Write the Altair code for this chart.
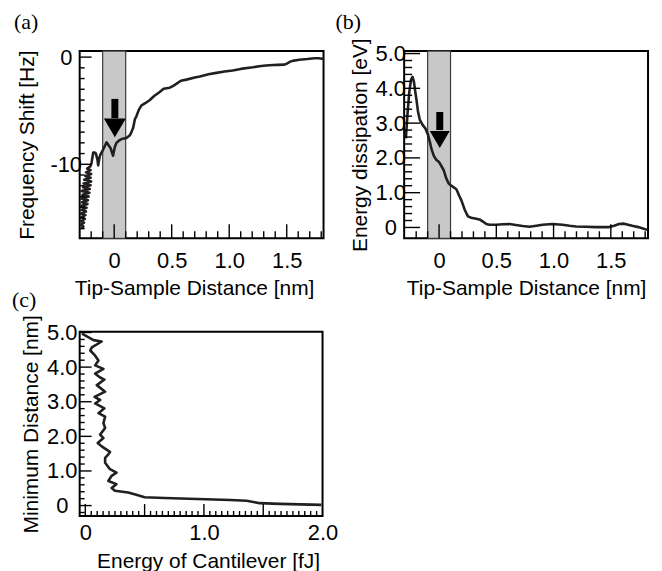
import altair as alt
import pandas as pd

SANS = "Liberation Sans"
SERIF = "Liberation Serif"
INK = "#231f20"

# ---------------- data ----------------
# (a) frequency shift [Hz] vs tip-sample distance [nm]
A_DIST = [-0.283, -0.268, -0.292, -0.262, -0.29, -0.255, -0.288, -0.25, -0.292, -0.245,
          -0.285, -0.24, -0.29, -0.232, -0.28, -0.228, -0.288, -0.222, -0.275, -0.215,
          -0.285, -0.212, -0.27, -0.205, -0.265, -0.2, -0.26, -0.205, -0.25, -0.2,
          -0.245, -0.205, -0.235, -0.208,
          -0.2, -0.196, -0.182, -0.17, -0.159, -0.145, -0.139, -0.13, -0.124, -0.095,
          -0.066, -0.05, -0.031, -0.01, 0.005, 0.02, 0.04, 0.064, 0.107, 0.136,
          0.15, 0.165, 0.18, 0.194, 0.215, 0.238, 0.27, 0.31, 0.35, 0.396,
          0.43, 0.483, 0.51, 0.54, 0.58, 0.628, 0.70, 0.745, 0.82, 0.888,
          0.96, 1.03, 1.10, 1.206, 1.26, 1.32, 1.42, 1.48, 1.50, 1.53,
          1.55, 1.61, 1.68, 1.74, 1.78, 1.82]
A_FREQ = [-16.0, -15.8, -15.65, -15.45, -15.3, -15.1, -14.95, -14.75, -14.6, -14.4,
          -14.25, -14.05, -13.9, -13.7, -13.55, -13.35, -13.2, -13.0, -12.85, -12.65,
          -12.5, -12.3, -12.15, -11.95, -11.8, -11.6, -11.45, -11.25, -11.1, -10.9,
          -10.75, -10.55, -10.4, -10.2,
          -10.0, -9.8, -8.9, -8.9, -9.0, -9.6, -10.1, -9.5, -9.2, -8.6,
          -7.95, -8.2, -8.5, -9.2, -8.4, -8.0, -7.8, -7.65, -7.55, -7.3,
          -7.0, -6.6, -5.8, -5.5, -4.9, -4.5, -4.3, -4.0, -3.6, -3.25,
          -2.95, -2.85, -2.7, -2.5, -2.2, -2.1, -1.9, -1.8, -1.6, -1.47,
          -1.35, -1.25, -1.1, -0.95, -0.85, -0.78, -0.72, -0.70, -0.62, -0.42,
          -0.35, -0.25, -0.18, -0.10, -0.10, -0.18]

# (b) energy dissipation [eV] vs tip-sample distance [nm]
B_DIST = [-0.29, -0.275, -0.26, -0.245, -0.232, -0.22, -0.21, -0.197, -0.185, -0.168,
          -0.144, -0.12, -0.096, -0.08, -0.066, -0.045, -0.023, 0.0, 0.021, 0.04,
          0.064, 0.085, 0.099, 0.125, 0.151, 0.175, 0.195, 0.224, 0.252, 0.28,
          0.325, 0.36, 0.383, 0.412, 0.44, 0.50, 0.557, 0.615, 0.67, 0.73,
          0.789, 0.85, 0.904, 0.99, 1.078, 1.14, 1.195, 1.28, 1.369, 1.484,
          1.53, 1.571, 1.615, 1.687, 1.74, 1.774, 1.817]
B_DISS = [2.56, 3.3, 3.9, 4.25, 4.33, 4.2, 3.95, 3.66, 3.35, 3.09,
          2.95, 2.85, 2.66, 2.45, 2.25, 2.05, 1.94, 1.88, 1.76, 1.65,
          1.40, 1.26, 1.22, 1.16, 1.10, 0.92, 0.78, 0.51, 0.32, 0.28,
          0.25, 0.22, 0.17, 0.10, 0.08, 0.08, 0.09, 0.10, 0.07, 0.04,
          0.02, 0.05, 0.08, 0.10, 0.08, 0.05, 0.03, 0.02, 0.01, 0.01,
          0.05, 0.10, 0.11, 0.05, 0.01, -0.02, -0.07]

# (c) minimum distance [nm] vs energy of cantilever [fJ]
C_ENERGY = [-0.028, 0.069, 0.138, 0.055, 0.042, 0.083, 0.111, 0.083, 0.153, 0.083,
            0.125, 0.161, 0.097, 0.167, 0.078, 0.125, 0.083, 0.161, 0.111, 0.167,
            0.153, 0.167, 0.125, 0.153, 0.105, 0.138, 0.208, 0.194, 0.167, 0.167,
            0.208, 0.263, 0.222, 0.194, 0.263, 0.222, 0.25, 0.361, 0.43, 0.50,
            0.667, 0.944, 1.222, 1.36, 1.47, 1.64, 1.99]
C_MIN = [4.97, 4.78, 4.74, 4.57, 4.48, 4.33, 4.19, 4.05, 3.95, 3.81,
         3.70, 3.64, 3.48, 3.29, 3.14, 3.05, 2.95, 2.81, 2.67, 2.57,
         2.38, 2.24, 2.05, 1.95, 1.81, 1.71, 1.55, 1.48, 1.38, 1.24,
         1.05, 0.95, 0.86, 0.71, 0.62, 0.51, 0.43, 0.38, 0.31, 0.24,
         0.22, 0.19, 0.16, 0.14, 0.07, 0.05, 0.02]

# shaded window and arrows
BAND = [-0.1, 0.1]
ARROW_A = {"x": [0.006], "top": [-3.9], "base": [-5.7], "head": [-6.6]}
ARROW_B = {"x": [0.006], "top": [3.32], "base": [2.8], "head": [2.53]}

# axis labels / ticks
DIST_LABELS = [0, 0.5, 1.0, 1.5]
DIST_MINOR = [-0.2, -0.1, 0.1, 0.2, 0.3, 0.4, 0.6, 0.7, 0.8, 0.9,
              1.1, 1.2, 1.3, 1.4, 1.6, 1.7, 1.8]
A_Y_LABELS = [-10, 0]
A_Y_MINOR = [-16, -15, -14, -13, -12, -11, -9, -8, -7, -6, -5, -4, -3, -2, -1]
B_Y_LABELS = [0, 1, 2, 3, 4, 5]
B_Y_MINOR = [0.2, 0.4, 0.6, 0.8, 1.2, 1.4, 1.6, 1.8, 2.2, 2.4, 2.6, 2.8,
             3.2, 3.4, 3.6, 3.8, 4.2, 4.4, 4.6, 4.8]
C_X_LABELS = [0, 1.0, 2.0]
C_X_MAJOR = [0, 0.5, 1.0, 1.5]
C_X_MINOR = [0.05, 0.1, 0.15, 0.2, 0.25, 0.3, 0.35, 0.4, 0.45,
             0.55, 0.6, 0.65, 0.7, 0.75, 0.8, 0.85, 0.9, 0.95,
             1.05, 1.1, 1.15, 1.2, 1.25, 1.3, 1.35, 1.4, 1.45,
             1.55, 1.6, 1.65, 1.7, 1.75, 1.8, 1.85, 1.9, 1.95]
C_Y_LABELS = [0, 1, 2, 3, 4, 5]
C_Y_MINOR = [-0.2, 0.2, 0.4, 0.6, 0.8, 1.2, 1.4, 1.6, 1.8, 2.2, 2.4, 2.6, 2.8,
             3.2, 3.4, 3.6, 3.8, 4.2, 4.4, 4.6, 4.8]

LABEL_EXPR = ("datum.value == 0 ? '0' : (datum.value < 0 ? '-' + format(-datum.value, 'd')"
              " : format(datum.value, '.1f'))")

HEAD = "M-1,-0.85L1,-0.85L0,0.85Z"


def curve_df(xs, ys):
    return pd.DataFrame({"x": xs, "y": ys, "i": list(range(len(xs)))})


def x_axis(values, title, label_pad, title_pad, title_x=None):
    kw = dict(values=values, labelExpr=LABEL_EXPR, ticks=False, tickSize=0, domain=False,
              grid=False, title=title, labelPadding=label_pad, titlePadding=title_pad,
              labelFlush=False, labelOverlap=False, labels=True)
    if title_x is not None:
        kw["titleX"] = title_x
    return alt.Axis(**kw)


def y_axis(values, title, label_pad, title_pad):
    return alt.Axis(values=values, labelExpr=LABEL_EXPR, ticks=False, tickSize=0, domain=False,
                    grid=False, title=title, labelPadding=label_pad, titlePadding=title_pad,
                    labelAlign="center", labelBaseline="middle", labelFlush=False,
                    labelOverlap=False, labels=True)


def make_panel(curve, xdom, ydom, W, H, xax, yax, ticks, title, band=None, arrow=None,
               head_size=400):
    xs = alt.Scale(domain=xdom, nice=False, zero=False)
    ys = alt.Scale(domain=ydom, nice=False, zero=False)
    layers = []
    if band is not None:
        bdf = pd.DataFrame({"x0": [band[0]], "x1": [band[1]]})
        layers.append(alt.Chart(bdf).mark_rect(fill="#c8c8c8", stroke="#3c3c3c",
                                                strokeWidth=1.2).encode(
            x=alt.X("x0:Q", scale=xs, axis=xax), x2="x1:Q",
            y=alt.value(0), y2=alt.value(H)))
    layers.append(alt.Chart(curve).mark_line(color=INK, strokeWidth=2.6, clip=True,
                                             strokeJoin="round").encode(
        x=alt.X("x:Q", scale=xs, axis=xax),
        y=alt.Y("y:Q", scale=ys, axis=yax),
        order="i:Q"))
    if arrow is not None:
        adf = pd.DataFrame(arrow)
        layers.append(alt.Chart(adf).mark_rule(color="black", strokeWidth=7).encode(
            x=alt.X("x:Q", scale=xs, axis=xax),
            y=alt.Y("top:Q", scale=ys, axis=yax), y2="base:Q"))
        layers.append(alt.Chart(adf).mark_point(shape=HEAD, filled=True, color="black",
                                                opacity=1, size=head_size).encode(
            x=alt.X("x:Q", scale=xs, axis=xax),
            y=alt.Y("head:Q", scale=ys, axis=yax)))
    for vals, ch, length in ticks:
        tdf = pd.DataFrame({"v": vals})
        if ch == "x":
            layers.append(alt.Chart(tdf).mark_rule(color="black", strokeWidth=1.4).encode(
                x=alt.X("v:Q", scale=xs, axis=xax),
                y=alt.value(H), y2=alt.value(H - length)))
        else:
            layers.append(alt.Chart(tdf).mark_rule(color="black", strokeWidth=1.4).encode(
                y=alt.Y("v:Q", scale=ys, axis=yax),
                x=alt.value(0), x2=alt.value(length)))
    return alt.layer(*layers).properties(width=W, height=H, title=title)


def panel_title(text, dx, offset):
    return alt.TitleParams(text=text, anchor="start", frame="group", dx=dx, offset=offset,
                           font=SERIF, fontSize=22, fontWeight="normal", color="black")


pa = make_panel(
    curve_df(A_DIST, A_FREQ), [-0.3, 1.82], [-16.9, 0.56], 245, 188,
    x_axis(DIST_LABELS, "Tip-Sample Distance [nm]", 12, 7, title_x=115),
    y_axis(A_Y_LABELS, "Frequency Shift [Hz]", 14, 12),
    [(DIST_MINOR, "x", 7), (DIST_LABELS, "x", 14), (A_Y_MINOR, "y", 5), (A_Y_LABELS, "y", 12)],
    panel_title("(a)", -66, 12), band=BAND, arrow=ARROW_A, head_size=484)

pb = make_panel(
    curve_df(B_DIST, B_DISS), [-0.305, 1.825], [-0.31, 5.07], 245, 188,
    x_axis(DIST_LABELS, "Tip-Sample Distance [nm]", 12, 7),
    y_axis(B_Y_LABELS, "Energy dissipation [eV]", 14, 5),
    [(DIST_MINOR, "x", 7), (DIST_LABELS, "x", 14), (B_Y_MINOR, "y", 8), (B_Y_LABELS, "y", 16)],
    panel_title("(b)", -69, 4), band=BAND, arrow=ARROW_B, head_size=400)

pc = make_panel(
    curve_df(C_ENERGY, C_MIN), [-0.0475, 2.0], [-0.3, 5.02], 244, 185,
    x_axis(C_X_LABELS, "Energy of Cantilever [fJ]", 7, 7, title_x=129),
    y_axis(C_Y_LABELS, "Minimum Distance [nm]", 18, 5),
    [(C_X_MINOR, "x", 5), (C_X_MAJOR, "x", 12), (C_Y_MINOR, "y", 5), (C_Y_LABELS, "y", 12)],
    panel_title("(c)", -68, 3))

top = alt.hconcat(pa, pb, spacing=10)
chart = alt.vconcat(top, pc, spacing=-13).properties(
    padding={"left": 3, "top": 0, "right": 5, "bottom": 0}
).configure_view(
    stroke="black", strokeWidth=2
).configure_axis(
    labelFont=SANS, labelFontSize=22, labelColor="black",
    titleFont=SANS, titleFontSize=21, titleFontWeight="normal", titleColor="black"
)

chart.save("out.html", embed_options={"renderer": "svg", "actions": False})
